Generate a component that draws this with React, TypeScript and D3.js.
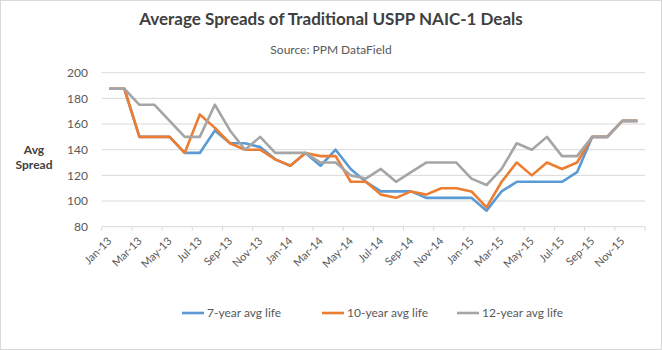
import React from "react";
import * as d3 from "d3";

const months = [
  "Jan-13","Feb-13","Mar-13","Apr-13","May-13","Jun-13","Jul-13","Aug-13","Sep-13","Oct-13","Nov-13","Dec-13",
  "Jan-14","Feb-14","Mar-14","Apr-14","May-14","Jun-14","Jul-14","Aug-14","Sep-14","Oct-14","Nov-14","Dec-14",
  "Jan-15","Feb-15","Mar-15","Apr-15","May-15","Jun-15","Jul-15","Aug-15","Sep-15","Oct-15","Nov-15","Dec-15",
];

const sevenYear = [
  187.5,187.5,150,150,150,137.5,137.5,155,145,145,142,132.5,
  127.5,137.5,127.5,140,125,115,107.5,107.5,107.5,102.5,102.5,102.5,
  102.5,92.5,107.5,115,115,115,115,122.5,150,150,162.5,162.5,
];
const tenYear = [
  187.5,187.5,150,150,150,137.5,167.5,157,145,140,140,132.5,
  127.5,137.5,135,135,115,115,105,102.5,107.5,105,110,110,
  107.5,95,115,130,120,130,125,130,150,150,162.5,162.5,
];
const twelveYear = [
  187.5,187.5,175,175,162.5,150,150,175,155,140,150,137.5,
  137.5,137.5,130,130,120,117.5,125,115,122.5,130,130,130,
  117.5,112.5,125,145,140,150,135,135,150,150,162.5,162.5,
];

const yTicks = [80, 100, 120, 140, 160, 180, 200];

const seriesList = [
  { name: "7-year avg life", values: sevenYear, color: "#5B9BD5" },
  { name: "10-year avg life", values: tenYear, color: "#ED7D31" },
  { name: "12-year avg life", values: twelveYear, color: "#A5A5A5" },
];

const W = 662;
const H = 350;
const font = "Lato, 'Open Sans', sans-serif";

export default function App() {
  const x = d3.scaleBand<string>().domain(months).range([101.7, 645]).padding(0);
  const y = d3.scaleLinear().domain([80, 200]).range([226.7, 72.7]);
  const bw = x.bandwidth();

  const line = d3
    .line<number>()
    .x((_, i) => (x(months[i]) as number) + bw / 2)
    .y((d) => y(d));

  const tickIdx = d3.range(0, months.length + 1, 2);

  return (
    <div style={{ position: "absolute", left: 0, top: 0 }}>
      <svg width={W} height={H} style={{ display: "block", fontFamily: font }}>
        <rect x={0.5} y={0.5} width={W - 1} height={H - 1} fill="#fff" stroke="#D9D9D9" />
        <text x={331} y={25} textAnchor="middle" fontSize={17} fontWeight={700} fill="#404040">
          Average Spreads of Traditional USPP NAIC-1 Deals
        </text>
        <text x={331} y={54} textAnchor="middle" fontSize={12} fill="#595959">
          Source: PPM DataField
        </text>
        <text x={34} y={154} textAnchor="middle" fontSize={12} fontWeight={700} fill="#404040">
          <tspan x={34}>Avg</tspan>
          <tspan x={34} dy={15}>Spread</tspan>
        </text>

        {yTicks.map((t) => (
          <g key={t}>
            <line x1={101.7} x2={645} y1={y(t)} y2={y(t)} stroke="#D9D9D9" strokeWidth={1} />
            <text x={88} y={y(t)} dy="0.35em" textAnchor="end" fontSize={12} fill="#595959">
              {t}
            </text>
          </g>
        ))}

        {tickIdx.map((k) => {
          const xx = k < months.length ? (x(months[k]) as number) : 645;
          return <line key={k} x1={xx} x2={xx} y1={y(80)} y2={y(80) + 4} stroke="#D9D9D9" />;
        })}

        {months.map((m, i) =>
          i % 2 === 0 ? (
            <text
              key={m}
              transform={`translate(${(x(m) as number) + bw / 2 + 3},${y(80) + 15}) rotate(-45)`}
              textAnchor="end"
              fontSize={11}
              fill="#595959"
            >
              {m}
            </text>
          ) : null
        )}

        {seriesList.map((s) => (
          <path
            key={s.name}
            d={line(s.values) || ""}
            fill="none"
            stroke={s.color}
            strokeWidth={2.6}
            strokeLinejoin="round"
          />
        ))}

        {seriesList.map((s, i) => {
          const lx = [182, 322, 457][i];
          return (
            <g key={s.name}>
              <line x1={lx} x2={lx + 22} y1={313} y2={313} stroke={s.color} strokeWidth={2.6} />
              <text x={lx + 25} y={313} dy="0.35em" fontSize={12} fill="#595959">
                {s.name}
              </text>
            </g>
          );
        })}
      </svg>
    </div>
  );
}
